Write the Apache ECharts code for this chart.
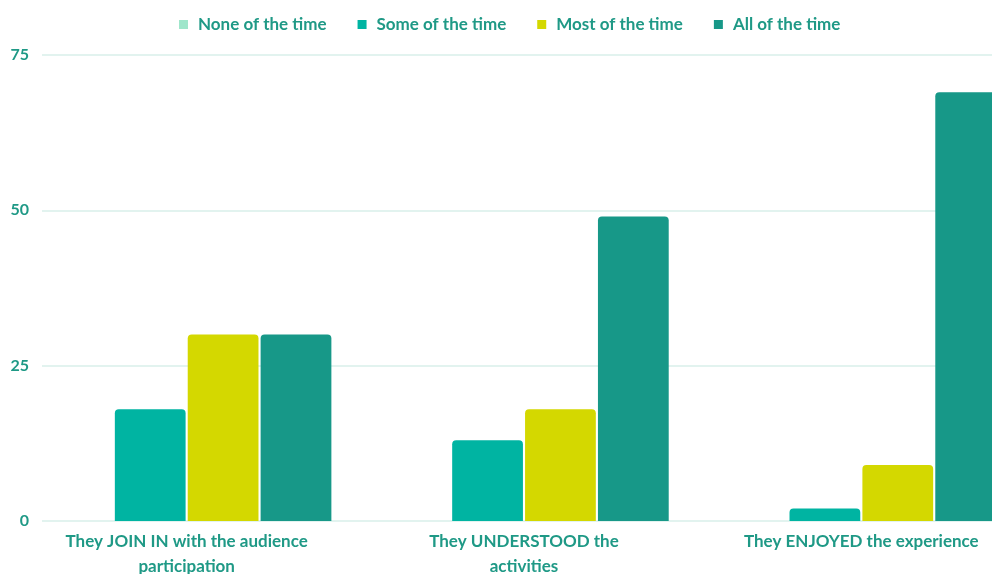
<!DOCTYPE html>
<html>
<head>
<meta charset="utf-8">
<script src="https://cdn.jsdelivr.net/npm/echarts@6/dist/echarts.min.js"></script>
<style>
  html, body { margin: 0; padding: 0; background: #ffffff; }
  #chart { width: 992px; height: 574px; }
</style>
</head>
<body>
<div id="chart"></div>
<script>
// Survey categories and answer counts
const categories = [
  'They JOIN IN with the audience\nparticipation',
  'They UNDERSTOOD the\nactivities',
  'They ENJOYED the experience'
];
const seriesNames = ['None of the time', 'Some of the time', 'Most of the time', 'All of the time'];
const noneOfTheTime = [0, 0, 0];
const someOfTheTime = [18, 13, 2];
const mostOfTheTime = [30, 18, 9];
const allOfTheTime = [30, 49, 69];
const yTicks = { min: 0, max: 75, interval: 25 };

const colors = ['#9fe6cb', '#00b4a2', '#d4d800', '#179888'];
const textColor = '#1f9986';
const fontFamily = 'Lato, "Open Sans", sans-serif';

const values = [noneOfTheTime, someOfTheTime, mostOfTheTime, allOfTheTime];

const chart = echarts.init(document.getElementById('chart'), null, { renderer: 'canvas' });

chart.setOption({
  animation: false,
  backgroundColor: '#ffffff',
  color: colors,
  textStyle: { fontFamily: fontFamily },
  legend: {
    data: seriesNames,
    top: 11,
    left: 174,
    icon: 'rect',
    itemWidth: 9,
    itemHeight: 9,
    itemGap: 31,
    textStyle: {
      color: textColor,
      fontSize: 17,
      fontWeight: 'bold',
      fontFamily: fontFamily,
      padding: [0, 0, 0, 5]
    }
  },
  grid: [
    // value scale with gridlines
    { left: 42, right: 0, top: 55, bottom: 53, containLabel: false, outerBoundsMode: 'none' },
    // bar groups (the last group runs past the right edge)
    { left: 18, right: -38, top: 55, bottom: 53, containLabel: false, outerBoundsMode: 'none' }
  ],
  xAxis: [
    { gridIndex: 0, type: 'category', data: categories, show: false },
    {
      gridIndex: 1,
      type: 'category',
      data: categories,
      axisLine: { show: false },
      axisTick: { show: false },
      axisLabel: {
        color: textColor,
        fontSize: 17,
        fontWeight: 'bold',
        fontFamily: fontFamily,
        margin: 8,
        lineHeight: 25,
        interval: 0
      }
    }
  ],
  yAxis: [
    {
      gridIndex: 0,
      type: 'value',
      min: yTicks.min,
      max: yTicks.max,
      interval: yTicks.interval,
      axisLine: { show: false },
      axisTick: { show: false },
      axisLabel: {
        color: textColor,
        fontSize: 16,
        fontWeight: 'bold',
        fontFamily: fontFamily,
        margin: 13
      },
      splitLine: { lineStyle: { color: '#d9efea', width: 1.5 } }
    },
    {
      gridIndex: 1,
      type: 'value',
      min: yTicks.min,
      max: yTicks.max,
      interval: yTicks.interval,
      show: false,
      splitLine: { show: false }
    }
  ],
  series: seriesNames.map((name, i) => ({
    name: name,
    type: 'bar',
    xAxisIndex: 1,
    yAxisIndex: 1,
    data: values[i],
    barGap: '3%',
    barCategoryGap: '14.2%',
    itemStyle: { color: colors[i], borderRadius: [4, 4, 0, 0] }
  }))
});
</script>
</body>
</html>
